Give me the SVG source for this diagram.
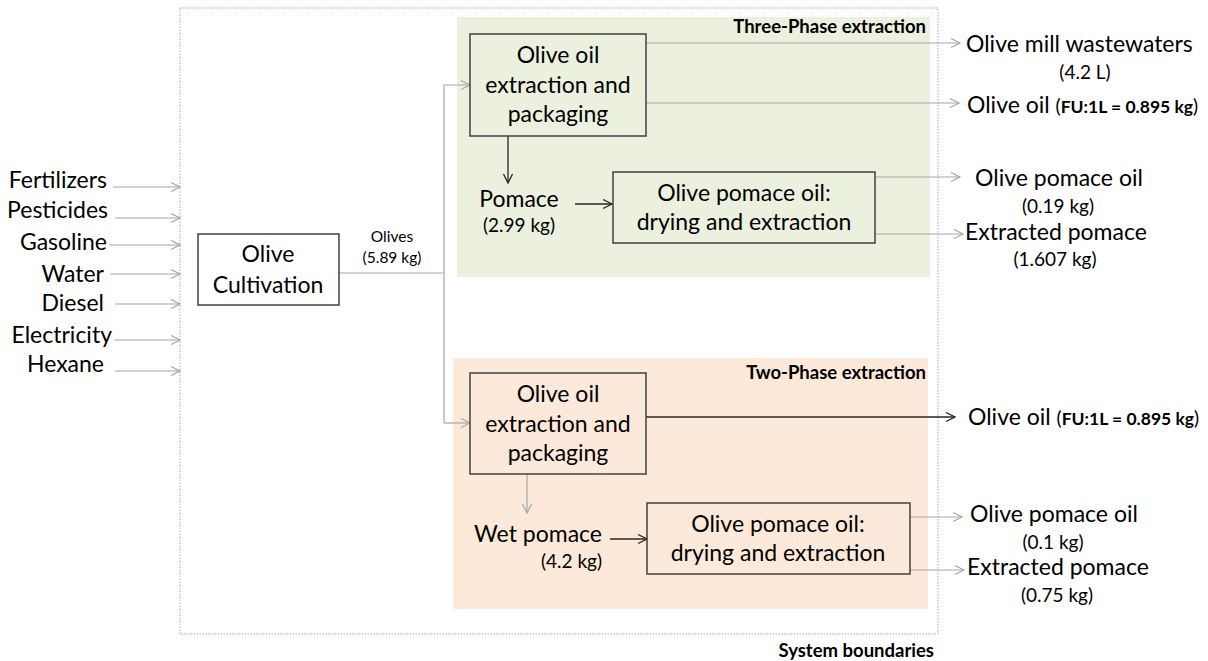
<svg xmlns="http://www.w3.org/2000/svg" width="1208" height="661" viewBox="0 0 1208 661">
<style>
text{font-family:Lato,"Liberation Sans",sans-serif;fill:#000}
.m{font-size:23px}
.s{font-size:19px}
.xs{font-size:15.5px}
.b{font-size:18.5px;font-weight:bold}
.fu{font-size:17.5px;font-weight:bold}
.box{fill:none;stroke:#404040;stroke-width:1.5}
.g{stroke:#a6a6a6;stroke-width:1.2;fill:none}
.d{stroke:#262626;stroke-width:1.3;fill:none}
</style>
<defs>
<marker id="ag" markerUnits="userSpaceOnUse" markerWidth="12" markerHeight="12" refX="10" refY="5" orient="auto">
<path d="M1,0.5 L10,5 L1,9.5" fill="none" stroke="#a6a6a6" stroke-width="1.2"/>
</marker>
<marker id="ad" markerUnits="userSpaceOnUse" markerWidth="12" markerHeight="12" refX="10" refY="5" orient="auto">
<path d="M1,0.5 L10,5 L1,9.5" fill="none" stroke="#262626" stroke-width="1.3"/>
</marker>
</defs>
<rect x="0" y="0" width="1208" height="661" fill="#fff"/>
<g id="boundary">
<rect x="180" y="8" width="758" height="626" fill="none" stroke="#a6a6a6" stroke-width="1" stroke-dasharray="1.5,1.5"/>
<text x="934" y="657" class="b" text-anchor="end">System boundaries</text>
</g>
<g id="three-phase">
<rect x="457" y="17" width="473" height="260" fill="#ebf1de"/>
<text x="926" y="33" class="b" text-anchor="end">Three-Phase extraction</text>
</g>
<g id="two-phase">
<rect x="453" y="358" width="475" height="251" fill="#fde9d9"/>
<text x="926" y="379" class="b" text-anchor="end">Two-Phase extraction</text>
</g>
<g id="connectors">
<line class="g" x1="113" y1="187" x2="180" y2="187" marker-end="url(#ag)"/>
<line class="g" x1="115" y1="218" x2="180" y2="218" marker-end="url(#ag)"/>
<line class="g" x1="109" y1="245" x2="180" y2="245" marker-end="url(#ag)"/>
<line class="g" x1="110" y1="274" x2="180" y2="274" marker-end="url(#ag)"/>
<line class="g" x1="115" y1="304" x2="180" y2="304" marker-end="url(#ag)"/>
<line class="g" x1="114" y1="340" x2="180" y2="340" marker-end="url(#ag)"/>
<line class="g" x1="115" y1="371" x2="180" y2="371" marker-end="url(#ag)"/>
<line class="g" x1="339" y1="273" x2="444" y2="273"/>
<polyline class="g" points="444,423 444,85 470,85" marker-end="url(#ag)"/>
<line class="g" x1="444" y1="423" x2="470" y2="423" marker-end="url(#ag)"/>
<line class="d" x1="508" y1="136" x2="508" y2="183" marker-end="url(#ad)"/>
<line class="d" x1="575" y1="204" x2="612" y2="204" marker-end="url(#ad)"/>
<line class="g" x1="646" y1="43" x2="960" y2="43" marker-end="url(#ag)"/>
<line class="g" x1="646" y1="103" x2="959" y2="103" marker-end="url(#ag)"/>
<line class="g" x1="875" y1="177" x2="960" y2="177" marker-end="url(#ag)"/>
<line class="g" x1="875" y1="234" x2="963" y2="234" marker-end="url(#ag)"/>
<line class="g" x1="527" y1="474" x2="527" y2="513" marker-end="url(#ag)"/>
<line class="d" x1="610" y1="539" x2="647" y2="539" marker-end="url(#ad)"/>
<line class="d" x1="646" y1="417" x2="955" y2="417" marker-end="url(#ad)"/>
<line class="g" x1="910" y1="517" x2="962" y2="517" marker-end="url(#ag)"/>
<line class="g" x1="910" y1="570" x2="964" y2="570" marker-end="url(#ag)"/>
</g>
<g id="inputs" class="m" text-anchor="end">
<text x="107" y="188">Fertilizers</text>
<text x="108" y="218">Pesticides</text>
<text x="107" y="250">Gasoline</text>
<text x="104" y="282">Water</text>
<text x="104" y="311">Diesel</text>
<text x="112" y="343">Electricity</text>
<text x="104" y="372">Hexane</text>
</g>
<g id="olive-cultivation">
<rect class="box" x="198" y="234" width="141" height="71"/>
<text class="m" x="268" y="262" text-anchor="middle">Olive</text>
<text class="m" x="268" y="293" text-anchor="middle">Cultivation</text>
</g>
<g id="olives-label" class="xs" text-anchor="middle">
<text x="392" y="242">Olives</text>
<text x="392" y="263">(5.89 kg)</text>
</g>
<g id="extraction-3p">
<rect class="box" x="470" y="34" width="176" height="102"/>
<text class="m" x="558" y="63" text-anchor="middle">Olive oil</text>
<text class="m" x="558" y="93" text-anchor="middle">extraction and</text>
<text class="m" x="558" y="122" text-anchor="middle">packaging</text>
</g>
<g id="pomace-3p" text-anchor="middle">
<text class="m" x="519" y="207">Pomace</text>
<text class="s" x="519" y="232">(2.99 kg)</text>
</g>
<g id="pomace-oil-3p">
<rect class="box" x="613" y="172" width="262" height="71"/>
<text class="m" x="744" y="201" text-anchor="middle">Olive pomace oil:</text>
<text class="m" x="744" y="230" text-anchor="middle">drying and extraction</text>
</g>
<g id="out-wastewater">
<text class="m" x="966" y="52">Olive mill wastewaters</text>
<text class="s" x="1085" y="79" text-anchor="middle">(4.2 L)</text>
</g>
<g id="out-oil-3p">
<text x="967" y="113"><tspan class="m">Olive oil </tspan><tspan class="s">(</tspan><tspan class="fu">FU:1L = 0.895 kg</tspan><tspan class="s">)</tspan></text>
</g>
<g id="out-pomace-oil-3p" text-anchor="middle">
<text class="m" x="1059" y="186">Olive pomace oil</text>
<text class="s" x="1058" y="213">(0.19 kg)</text>
</g>
<g id="out-extracted-3p">
<text class="m" x="965" y="240">Extracted pomace</text>
<text class="s" x="1055" y="266" text-anchor="middle">(1.607 kg)</text>
</g>
<g id="extraction-2p">
<rect class="box" x="470" y="373" width="176" height="101"/>
<text class="m" x="558" y="402" text-anchor="middle">Olive oil</text>
<text class="m" x="558" y="432" text-anchor="middle">extraction and</text>
<text class="m" x="558" y="461" text-anchor="middle">packaging</text>
</g>
<g id="wet-pomace-2p" text-anchor="end">
<text class="m" x="602" y="542">Wet pomace</text>
<text class="s" x="602" y="568">(4.2 kg)</text>
</g>
<g id="pomace-oil-2p">
<rect class="box" x="647" y="503" width="263" height="71"/>
<text class="m" x="778" y="532" text-anchor="middle">Olive pomace oil:</text>
<text class="m" x="778" y="561" text-anchor="middle">drying and extraction</text>
</g>
<g id="out-oil-2p">
<text x="968" y="425"><tspan class="m">Olive oil </tspan><tspan class="s">(</tspan><tspan class="fu">FU:1L = 0.895 kg</tspan><tspan class="s">)</tspan></text>
</g>
<g id="out-pomace-oil-2p" text-anchor="middle">
<text class="m" x="1054" y="522">Olive pomace oil</text>
<text class="s" x="1053" y="549">(0.1 kg)</text>
</g>
<g id="out-extracted-2p">
<text class="m" x="967" y="575">Extracted pomace</text>
<text class="s" x="1057" y="602" text-anchor="middle">(0.75 kg)</text>
</g>
</svg>
